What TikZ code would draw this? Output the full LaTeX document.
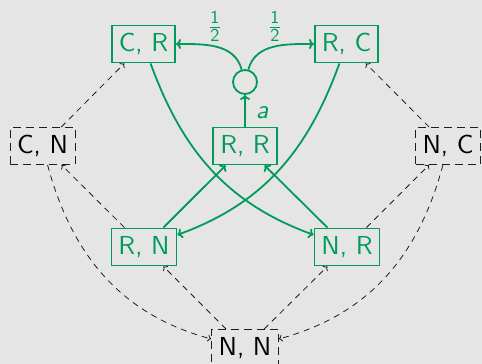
\documentclass[tikz,border=0pt]{standalone}
\usepackage{fontspec}
\setsansfont{lmsans10-regular.otf}[ItalicFont=lmsans10-oblique.otf]
\usetikzlibrary{arrows.meta}
\definecolor{grn}{RGB}{0,155,90}
\definecolor{bg}{RGB}{229,229,229}
\definecolor{dk}{RGB}{30,30,30}
\begin{document}
\begin{tikzpicture}[x=1pt,y=1pt,
  every node/.style={font=\fontsize{26}{31}\selectfont\sffamily},
  gbox/.style={draw=grn,text=grn,line width=1.8pt,rectangle,inner xsep=7pt,inner ysep=0pt,minimum height=37pt},
  dbox/.style={draw=dk,text=black,line width=0.9pt,dash pattern=on 8pt off 5pt,rectangle,inner xsep=7pt,inner ysep=0pt,minimum height=37pt},
  garr/.style={-{To[length=5pt,width=10pt]},draw=grn,line width=1.8pt},
  darr/.style={-{To[length=3.5pt,width=7pt]},draw=dk,line width=0.8pt,dash pattern=on 6pt off 5pt},
  lbl/.style={text=grn,inner sep=1pt}]
\fill[bg] (0,0) rectangle (482,-364);
\useasboundingbox (0,0) rectangle (482,-364);
\node[gbox] (CR) at (143.5,-44) {C, R};
\node[gbox] (RC) at (346.5,-44) {R, C};
\node[circle,draw=grn,line width=1.8pt,minimum size=24pt,inner sep=0pt] (c) at (245,-82) {};
\node[gbox] (RR) at (245,-146) {R, R};
\node[dbox] (CN) at (42.5,-146) {C, N};
\node[dbox] (NC) at (448,-146) {N, C};
\node[gbox] (RN) at (144,-247) {R, N};
\node[gbox] (NR) at (347,-247) {N, R};
\node[dbox] (NN) at (245,-348) {N, N};
% green
\draw[garr] (RR) -- node[right,lbl,pos=0.45,xshift=9pt]{\textit{a}} (c);
\draw[garr] (c) to[out=105,in=0] node[above,lbl,pos=0.52,yshift=3pt]{$\frac{\mathsf{1}}{\mathsf{2}}$} (CR);
\draw[garr] (c) to[out=75,in=180] node[above,lbl,pos=0.52,yshift=3pt]{$\frac{\mathsf{1}}{\mathsf{2}}$} (RC);
\draw[garr] (CR) to[out=-70,in=160] (NR);
\draw[garr] (RC) to[out=-110,in=20] (RN);
\draw[garr] (RN) -- (RR);
\draw[garr] (NR) -- (RR);
% dashed
\draw[darr] (CN) -- (CR);
\draw[darr] (RN) -- (CN);
\draw[darr] (NC) -- (RC);
\draw[darr] (NR) -- (NC);
\draw[darr] (NN) -- (RN);
\draw[darr] (NN) -- (NR);
\draw[darr] (CN) to[out=-75,in=165] (NN);
\draw[darr] (NC) to[out=-105,in=15] (NN);
\end{tikzpicture}
\end{document}
